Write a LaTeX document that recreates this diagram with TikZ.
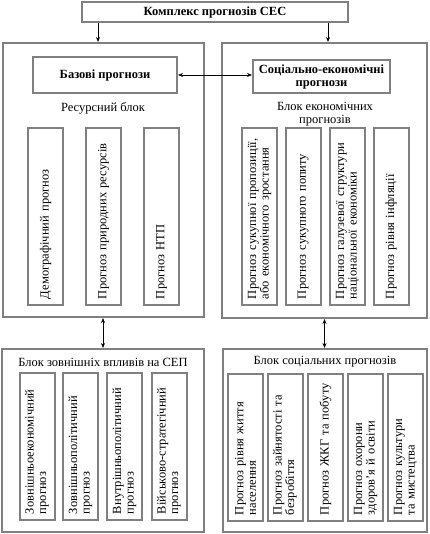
\documentclass[tikz,border=0pt]{standalone}
\usepackage{fontspec}
\setmainfont{Liberation Serif}
\usetikzlibrary{arrows.meta}
\definecolor{cadreGris}{RGB}{128,128,128}

\begin{document}
\begin{tikzpicture}[x=1pt, y=-1pt,
  font=\fontsize{12.5}{12.5}\selectfont,
  bloc/.style={draw=cadreGris, line width=2pt, inner sep=0pt},
  titre/.style={draw=cadreGris, line width=2pt, align=center, inner sep=2pt,
                font=\fontsize{12.5}{13}\selectfont\bfseries},
  upitem/.style={draw=cadreGris, line width=2pt, rotate=90, align=left, inner sep=5pt,
                 minimum width=177pt, minimum height=35pt, text width=165pt},
  lowitem/.style={draw=cadreGris, line width=2pt, rotate=90, align=left, inner sep=5pt,
                  minimum width=147pt, minimum height=35pt, text width=135pt},
  fleche/.style={line width=0.8pt, -{Stealth[length=5pt,width=4pt]}},
  lien/.style={line width=0.8pt, {Stealth[length=5pt,width=4pt]}-{Stealth[length=5pt,width=4pt]}}
]
\useasboundingbox (0,0) rectangle (429,534);

% Titre
\node[titre, minimum width=266pt, minimum height=20pt] (kompl) at (215,12) {Комплекс прогнозів СЕС};

% Blocs du haut
\node[bloc, minimum width=201pt, minimum height=274pt] (resblk) at (103,180) {};
\node[bloc, minimum width=205pt, minimum height=275pt] (ekblk) at (324.5,180.5) {};

\node[titre, minimum width=144pt, minimum height=36pt] (bazovi) at (105,75) {Базові прогнози};
\node[titre, minimum width=137pt, minimum height=33pt] (socek) at (321.5,76.5) {Соціально-економічні\\прогнози};

\node (resname) at (103,108) {Ресурсний блок};
\node[align=center] (ekname) at (325,114) {Блок економічних\\прогнозів};

% Ресурсний блок
\node[upitem] (dem) at (45.5,216.5) {Демографічний прогноз};
\node[upitem] (prir) at (103.5,216.5) {Прогноз природних ресурсів};
\node[upitem] (ntp) at (161.5,216.5) {Прогноз НТП};

% Блок економічних прогнозів
\node[upitem] (propoz) at (259.5,216.5) {Прогноз сукупної пропозиції,\\або економічного зростання};
\node[upitem] (popyt) at (303,216.5) {Прогноз сукупного попиту};
\node[upitem] (galuz) at (347.5,216.5) {Прогноз галузевої структури\\національної економіки};
\node[upitem] (infl) at (391,216.5) {Прогноз рівня інфляції};

% Blocs du bas
\node[bloc, minimum width=202pt, minimum height=183pt] (zovblk) at (103,440.5) {};
\node[bloc, minimum width=204pt, minimum height=183pt] (socblk) at (325,440.5) {};

\node (zovname) at (103,362) {Блок зовнішніх впливів на СЕП};
\node (socname) at (325,362) {Блок соціальних прогнозів};

% Блок зовнішніх впливів
\node[lowitem] (zek) at (37,446.5) {Зовнішньоекономічний\\прогноз};
\node[lowitem] (zpol) at (80.5,446.5) {Зовнішньополітичний\\прогноз};
\node[lowitem] (vpol) at (124.5,446.5) {Внутрішньополітичний\\прогноз};
\node[lowitem] (vijsk) at (169,446.5) {Військово-стратегічний\\прогноз};

% Блок соціальних прогнозів
\node[lowitem] (zhyt) at (245.5,447.5) {Прогноз рівня життя\\населення};
\node[lowitem] (zajn) at (285,447.5) {Прогноз зайнятості та\\безробіття};
\node[lowitem] (zhkg) at (325.5,447.5) {Прогноз ЖКГ та побуту};
\node[lowitem] (zdor) at (365.5,447.5) {Прогноз охорони\\здоров’я й освіти};
\node[lowitem] (kult) at (405.5,447.5) {Прогноз культури\\та мистецтва};

% Flèches
\draw[fleche] ([xshift=-5pt]resblk.north |- kompl.south) -- ([xshift=-5pt]resblk.north);
\draw[fleche] ([xshift=3.5pt]ekblk.north |- kompl.south) -- ([xshift=3.5pt]ekblk.north);
\draw[lien] (bazovi.east) -- (bazovi.east -| socek.west);
\draw[lien] (resblk.south) -- (zovblk.north);
\draw[lien] (ekblk.south) -- (ekblk.south |- socblk.north);

\end{tikzpicture}
\end{document}
